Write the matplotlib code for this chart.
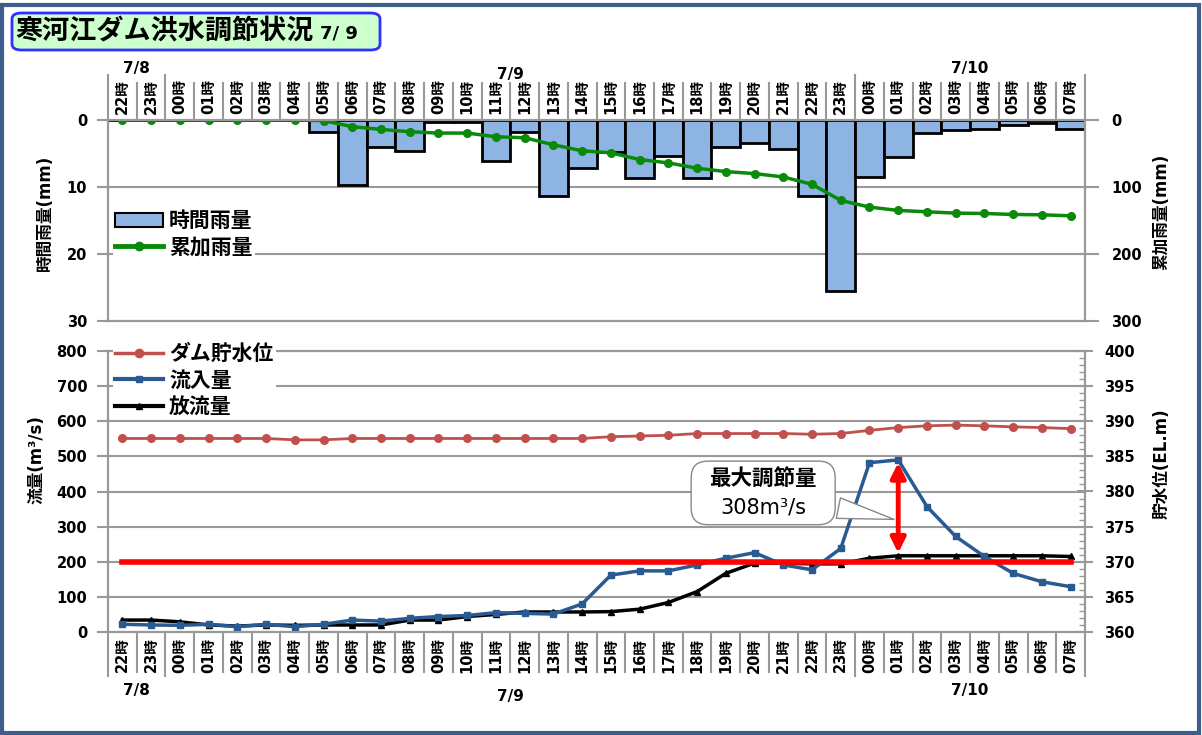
import numpy as np
import matplotlib
matplotlib.use('Agg')
import matplotlib.pyplot as plt
from matplotlib.patches import FancyBboxPatch, Rectangle, Patch
from matplotlib.lines import Line2D
from matplotlib.ticker import MultipleLocator
from matplotlib.transforms import blended_transform_factory

plt.rcParams['font.family'] = ['DejaVu Sans', 'Noto Sans CJK JP']
plt.rcParams['font.weight'] = 'bold'

# --- data ---
hour_labels = ['22時', '23時',
               '00時', '01時', '02時', '03時', '04時', '05時', '06時', '07時',
               '08時', '09時', '10時', '11時', '12時', '13時', '14時', '15時',
               '16時', '17時', '18時', '19時', '20時', '21時', '22時', '23時',
               '00時', '01時', '02時', '03時', '04時', '05時', '06時', '07時']
dates = ['7/8', '7/9', '7/10']
hours_in_date = [2, 24, 8]

# hourly rainfall (mm, left top axis)
hourly_rain = [0, 0, 0, 0, 0, 0, 0, 1.8, 9.7, 4.0, 4.6, 0.3, 0.3, 6.1, 1.8,
               11.3, 7.2, 4.8, 8.7, 5.3, 8.7, 4.0, 3.4, 4.4, 11.3, 25.5,
               8.5, 5.5, 1.9, 1.5, 1.3, 0.7, 0.5, 1.3]
# cumulative rainfall (mm, right top axis)
cum_rain = [0, 0, 0, 0, 0, 0, 0, 1, 10, 14, 17.5, 19.5, 19.5, 25, 26.5,
            37, 46, 49, 59, 64, 72, 77, 80, 85, 96, 120,
            130, 135, 137, 139, 139.5, 141, 141.5, 143]
# reservoir water level (EL.m, right bottom axis)
dam_level = [387.55, 387.55, 387.55, 387.55, 387.55, 387.55, 387.35, 387.35,
             387.55, 387.55, 387.55, 387.55, 387.55, 387.55, 387.55, 387.55,
             387.55, 387.8, 387.9, 388.0, 388.25, 388.25, 388.25, 388.25,
             388.15, 388.25, 388.7, 389.1, 389.35, 389.45, 389.35, 389.2,
             389.1, 388.95]
# inflow / outflow (m3/s, left bottom axis)
inflow = [22, 20, 19, 22, 15, 22, 15, 22, 34, 31, 39, 44, 47, 55, 53, 51, 80,
          162, 174, 174, 191, 210, 226, 191, 177, 238, 482, 490, 357, 272,
          215, 167, 143, 129]
outflow = [34, 34, 29, 20, 17, 20, 19, 20, 20, 20, 34, 34, 44, 50, 57, 57, 57,
           58, 65, 84, 115, 167, 196, 196, 194, 194, 210, 217, 217, 217, 217,
           217, 217, 215]
control_flow = 200      # flood control discharge
peak_index = 27         # 7/10 01時
peak_title = '最大調節量'
peak_value = '308m³/s'

W, H = 1202, 735
GRAY = '#999999'


def fx(px):
    return px / W


def fy(py):
    return 1 - py / H


fig = plt.figure(figsize=(W / 100, H / 100), dpi=100)
fig.patch.set_facecolor('white')

# outer frame and title box
fig.add_artist(Rectangle((fx(2), fy(733)), 1197 / W, 728 / H, transform=fig.transFigure,
                         fill=False, ec='#3d5e8c', lw=3))
fig.add_artist(FancyBboxPatch((fx(12), fy(50)), 368 / W, 37 / H,
                              boxstyle='round,pad=0,rounding_size=0.008',
                              transform=fig.transFigure, fc='#ccffcc', ec='#3030ff', lw=2))
fig.text(fx(15), fy(32), '寒河江ダム洪水調節状況', fontsize=19.5, va='center', ha='left')
fig.text(fx(320), fy(33), '7/ 9', fontsize=13, va='center', ha='left')

x = np.arange(len(hour_labels))
ax1 = fig.add_axes([fx(108), fy(321), 977 / W, 201 / H])
ax2 = fig.add_axes([fx(108), fy(632), 977 / W, 281 / H])
ax1r = ax1.twinx()
ax2r = ax2.twinx()

# ---- top: rainfall ----
ax1.set_axisbelow(True)
ax1.bar(x, hourly_rain, width=1.0, color='#8db4e2', edgecolor='black', lw=2)
ax1.set_ylim(30, 0)
ax1.set_yticks([0, 10, 20, 30])
ax1r.plot(x, cum_rain, '-o', color='#0a8a0a', lw=2.5, ms=5.5)
ax1r.set_ylim(300, 0)
ax1r.set_yticks([0, 100, 200, 300])

# ---- bottom: flows and level ----
ax2.set_axisbelow(True)
ax2.plot(x, outflow, '-^', color='black', lw=2.5, ms=4.5, zorder=3)
ax2.plot(x, inflow, '-s', color='#2a5a92', lw=2.5, ms=5, zorder=4)
ax2.plot(x, [control_flow] * len(x), '-', color='#ff0000', lw=4, zorder=5)
ax2.set_ylim(0, 800)
ax2.set_yticks(np.arange(0, 801, 100))
ax2r.plot(x, dam_level, '-o', color='#c0504d', lw=2, ms=5.5)
ax2r.set_ylim(360, 400)
ax2r.set_yticks(np.arange(360, 401, 5))
ax2r.yaxis.set_minor_locator(MultipleLocator(1))

ax2.annotate('', xy=(peak_index, inflow[peak_index]), xytext=(peak_index, outflow[peak_index]),
             arrowprops=dict(arrowstyle='<|-|>', color='#ff0000', lw=3.5, mutation_scale=22),
             zorder=6)
# callout box: blank box with wedge, then the two text lines
ax2.annotate('\u3000' * 6 + '\n' + '\u3000' * 6, xy=(26.95, 319), xytext=(22.3, 396),
             ha='center', va='center', fontsize=15, linespacing=1.3,
             bbox=dict(boxstyle='round,pad=0.45,rounding_size=0.8', fc='white', ec='#888888', lw=1),
             arrowprops=dict(arrowstyle='wedge,tail_width=1.0,shrink_factor=0.5',
                             fc='white', ec='#888888', lw=1),
             zorder=7)
ax2.text(22.3, 438, peak_title, ha='center', va='center', fontsize=15.5, zorder=8)
ax2.text(22.3, 355, peak_value, ha='center', va='center', fontsize=15, fontweight='normal',
         zorder=8)

# ---- axes styling ----
for ax in (ax1, ax2, ax1r, ax2r):
    ax.set_xlim(-0.5, 33.5)
    for sp in ax.spines.values():
        sp.set_color(GRAY)
        sp.set_linewidth(1.5)
for ax in (ax1, ax2):
    ax.grid(axis='y', color=GRAY, lw=1.5)
    ax.tick_params(axis='y', length=8, width=1.5, color=GRAY, pad=7, labelsize=10.5)
for ax in (ax1r, ax2r):
    ax.tick_params(axis='y', which='major', length=10, width=1.5, color=GRAY, pad=9,
                   labelsize=10.5)
ax2r.tick_params(axis='y', which='major', direction='inout', length=12, pad=8)
ax2r.tick_params(axis='y', which='minor', direction='in', length=4, width=1, color=GRAY)

ax1.xaxis.tick_top()
ax1.set_xticks(x)
ax1.set_xticklabels(hour_labels)
ax1.tick_params(axis='x', length=0, pad=4, labelsize=10.5, labelrotation=90)
ax2.set_xticks(x)
ax2.set_xticklabels(hour_labels)
ax2.tick_params(axis='x', length=0, pad=4, labelsize=10.5, labelrotation=90)

# cell separators under / over the hour labels
starts = np.cumsum([0] + hours_in_date)
day_bounds = set(starts - 0.5)
for ax, up, reg, tall in ((ax1, True, 37, 45), (ax2, False, 40, 44)):
    hpx = ax.get_position().height * H
    tr = blended_transform_factory(ax.transData, ax.transAxes)
    for b in np.arange(-0.5, len(x), 1.0):
        ln = (tall if b in day_bounds else reg) / hpx
        y0, y1 = (1, 1 + ln) if up else (0, -ln)
        ax.plot([b, b], [y0, y1], color=GRAY, lw=1.5, transform=tr, clip_on=False)

# date labels
for i, d in enumerate(dates):
    cx = (starts[i] + starts[i + 1] - 1) / 2
    ytop = 74 if d == '7/9' else 68
    ybot = 697 if d == '7/9' else 690
    ax1.annotate(d, xy=(cx, fy(ytop)), xycoords=('data', 'figure fraction'),
                 ha='center', va='center', fontsize=11, annotation_clip=False)
    ax2.annotate(d, xy=(cx, fy(ybot)), xycoords=('data', 'figure fraction'),
                 ha='center', va='center', fontsize=11, annotation_clip=False)

# axis titles
fig.text(fx(45), fy(213), '時間雨量(mm)', rotation=90, ha='center', va='center', fontsize=12)
fig.text(fx(37), fy(460), '流量(m³/s)', rotation=90, ha='center', va='center', fontsize=12)
fig.text(fx(1161), fy(212), '累加雨量(mm)', rotation=90, ha='center', va='center', fontsize=12)
fig.text(fx(1162), fy(464), '貯水位(EL.m)', rotation=90, ha='center', va='center', fontsize=12)

# legends
h_top = [Patch(fc='#8db4e2', ec='black', lw=1.5),
         Line2D([], [], color='#0a8a0a', lw=3.5, marker='o', ms=6)]
ax1r.legend(h_top, ['時間雨量', '累加雨量'], loc='center left', bbox_to_anchor=(0.005, 0.43),
            fontsize=15, frameon=True, fancybox=False, framealpha=1, edgecolor='none',
            borderpad=0.1, handlelength=2.3, handletextpad=0.3, labelspacing=0.3,
            borderaxespad=0)
h_bot = [Line2D([], [], color='#c0504d', lw=2.5, marker='o', ms=6),
         Line2D([], [], color='#2a5a92', lw=3, marker='s', ms=5),
         Line2D([], [], color='black', lw=3, marker='^', ms=5)]
ax2r.legend(h_bot, ['ダム貯水位', '流入量', '放流量'], loc='center left',
            bbox_to_anchor=(0.005, 0.895), fontsize=15, frameon=True, fancybox=False,
            framealpha=1, edgecolor='none', borderpad=0.1, handlelength=2.3,
            handletextpad=0.3, labelspacing=0.3, borderaxespad=0)

fig.savefig('out.png', dpi=100)
